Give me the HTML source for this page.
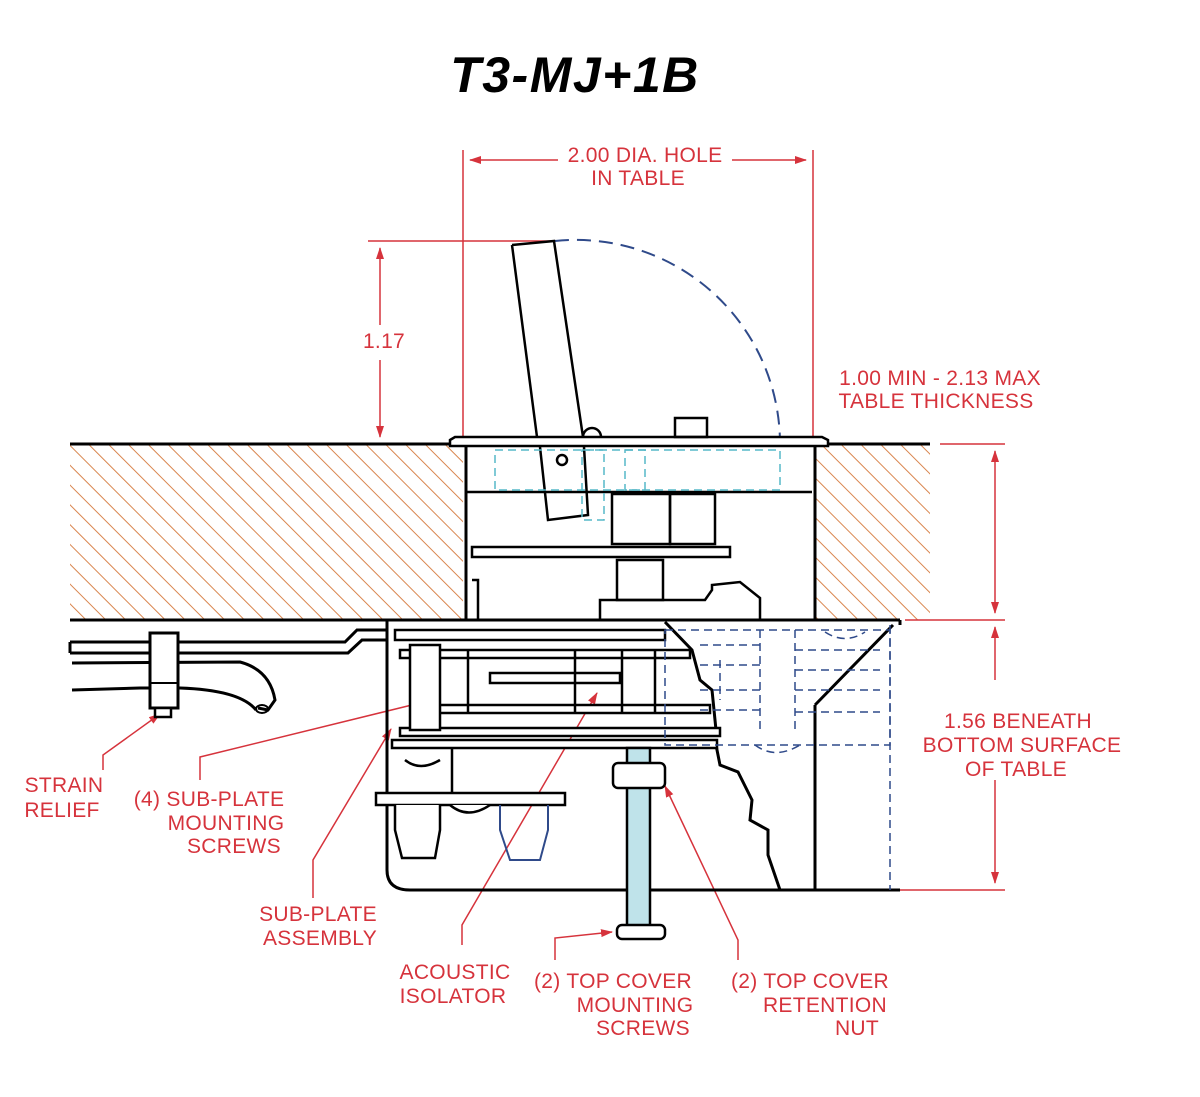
<!DOCTYPE html>
<html><head><meta charset="utf-8"><style>
html,body{margin:0;padding:0;background:#fff}
svg{display:block}
text{font-family:"Liberation Sans",sans-serif}
.l{fill:#d6333c;font-size:21px;letter-spacing:0.3px}
</style></head><body>
<svg width="1200" height="1097" viewBox="0 0 1200 1097" xmlns="http://www.w3.org/2000/svg">
<defs>
<pattern id="h" width="14" height="14" patternUnits="userSpaceOnUse" patternTransform="rotate(-45)">
<line x1="0" y1="0" x2="0" y2="14" stroke="#d9864f" stroke-width="2"/>
</pattern>
<marker id="a" markerWidth="12" markerHeight="8" refX="11" refY="4" orient="auto" markerUnits="userSpaceOnUse">
<path d="M0,0 L12,4 L0,8 z" fill="#d6333c"/>
</marker>
</defs>
<text x="575" y="92" text-anchor="middle" font-size="50" font-weight="bold" font-style="italic" letter-spacing="1.5">T3-MJ+1B</text>

<!-- table hatch -->
<rect x="70" y="445" width="393" height="175" fill="url(#h)"/>
<rect x="815" y="445" width="115" height="175" fill="url(#h)"/>
<g stroke="#000" stroke-width="3" fill="none">
<line x1="70" y1="444" x2="930" y2="444"/>
<line x1="70" y1="620" x2="900" y2="620"/>
<line x1="466" y1="446" x2="466" y2="620"/>
<line x1="815" y1="446" x2="815" y2="620"/>
</g>

<!-- red dims -->
<g stroke="#d6333c" stroke-width="1.5" fill="none">
<line x1="463" y1="150" x2="463" y2="438"/>
<line x1="813" y1="150" x2="813" y2="438"/>
<path d="M558,160 L470,160" marker-end="url(#a)"/>
<path d="M732,160 L806,160" marker-end="url(#a)"/>
<line x1="368" y1="241" x2="555" y2="241"/>
<path d="M380,325 L380,248" marker-end="url(#a)"/>
<path d="M380,360 L380,437" marker-end="url(#a)"/>
<line x1="940" y1="444" x2="1005" y2="444"/>
<line x1="905" y1="620" x2="1005" y2="620"/>
<line x1="900" y1="890" x2="1005" y2="890"/>
<path d="M995,530 L995,451" marker-end="url(#a)"/>
<path d="M995,530 L995,613" marker-end="url(#a)"/>
<path d="M995,680 L995,627" marker-end="url(#a)"/>
<path d="M995,780 L995,883" marker-end="url(#a)"/>
<!-- leaders -->
<path d="M103,770 L103,755 L160,714" marker-end="url(#a)"/>
<path d="M200,780 L200,757 L420,703 L429,645" marker-end="url(#a)"/>
<path d="M313,898 L313,860 L391,729" marker-end="url(#a)"/>
<path d="M462,945 L462,925 L597,693" marker-end="url(#a)"/>
<path d="M555,960 L555,938 L612,932" marker-end="url(#a)"/>
<path d="M738,960 L738,940 L665,786" marker-end="url(#a)"/>
</g>

<!-- arc -->
<path d="M555,241 A204,204 0 0 1 780,444" stroke="#2f4a8a" stroke-width="2" fill="none" stroke-dasharray="14,8"/>

<g stroke="#000" stroke-width="2.5" fill="none">
<path d="M450,440 L455,437 L822,437 L828,440 L828,446 L450,446 z" fill="#fff"/>
<path d="M512,245 L554,241 L583,437 M512,245 L537,437"/>
<path d="M540,447 L548,520 L588,515 L584,447"/>
<path d="M583,437 A9,9 0 0 1 601,437"/>
<rect x="675" y="418" width="32" height="19"/>
<circle cx="562" cy="460" r="5"/>
<line x1="466" y1="492" x2="812" y2="492"/>
<rect x="612" y="494" width="58" height="50"/>
<rect x="670" y="494" width="45" height="50"/>
<rect x="472" y="547" width="258" height="10"/>
<rect x="617" y="560" width="46" height="40"/>
<path d="M600,620 L600,600 L705,600 L712,590 L712,585 L740,582 L760,598 L760,620"/>
<path d="M472,580 L478,580 L478,620"/>
</g>
<g stroke="#56b8c8" stroke-width="1.5" fill="none" stroke-dasharray="8,5">
<rect x="495" y="450" width="285" height="40"/>
<rect x="582" y="450" width="22" height="70"/>
<rect x="625" y="450" width="20" height="40"/>
</g>

<g stroke="#000" stroke-width="3" fill="none">
<path d="M387,620 L387,870 Q387,890 410,890 L900,890"/>
<line x1="815" y1="705" x2="815" y2="890"/>
<line x1="815" y1="705" x2="893" y2="625"/>
<line x1="900" y1="620" x2="900" y2="625"/>
<path d="M665,622 L692,650 L700,680 L712,690 L716,730"/>
<path d="M715,740 L720,765 L738,772 L752,800 L750,820 L768,830 L768,855 L780,890"/>
</g>
<g stroke="#000" stroke-width="2.5" fill="#fff">
<rect x="395" y="630" width="270" height="10"/>
<rect x="400" y="650" width="290" height="8"/>
<rect x="490" y="673" width="130" height="10"/>
<rect x="420" y="705" width="290" height="8"/>
<rect x="400" y="728" width="320" height="8"/>
<rect x="392" y="740" width="325" height="8"/>
<rect x="376" y="793" width="189" height="12"/>
<rect x="410" y="645" width="30" height="85"/>
<line x1="468" y1="650" x2="468" y2="713"/>
<line x1="575" y1="650" x2="575" y2="713"/>
<line x1="622" y1="650" x2="622" y2="713"/>
<line x1="655" y1="650" x2="655" y2="713"/>
<path d="M405,760 Q420,772 440,760"/>
<path d="M395,805 L395,830 L402,858 L435,858 L440,830 L440,805"/>
<path d="M450,805 Q468,820 490,805"/>
<line x1="452" y1="748" x2="452" y2="793"/>
</g>
<path d="M500,805 L500,830 L510,860 L540,860 L548,830 L548,805" stroke="#2f4a8a" stroke-width="2" fill="none"/>
<rect x="627" y="748" width="23" height="180" fill="#bfe3ea" stroke="#000" stroke-width="2.5"/>
<rect x="613" y="763" width="52" height="25" rx="5" fill="#fff" stroke="#000" stroke-width="2.5"/>
<rect x="617" y="925" width="48" height="14" rx="5" fill="#fff" stroke="#000" stroke-width="2.5"/>
<g stroke="#2f4a8a" stroke-width="1.5" fill="none" stroke-dasharray="8,5">
<rect x="665" y="630" width="225" height="115"/>
<line x1="700" y1="645" x2="760" y2="645"/>
<line x1="700" y1="665" x2="760" y2="665"/>
<line x1="700" y1="690" x2="760" y2="690"/>
<line x1="700" y1="710" x2="760" y2="710"/>
<line x1="795" y1="650" x2="880" y2="650"/>
<line x1="795" y1="670" x2="880" y2="670"/>
<line x1="795" y1="690" x2="880" y2="690"/>
<line x1="795" y1="712" x2="880" y2="712"/>
<line x1="760" y1="630" x2="760" y2="730"/>
<line x1="795" y1="630" x2="795" y2="730"/>
<line x1="720" y1="660" x2="720" y2="700"/>
<path d="M755,745 Q775,760 800,745"/>
<path d="M825,632 Q845,645 865,632"/>
<line x1="890" y1="625" x2="890" y2="890"/>
</g>

<g stroke="#000" stroke-width="3" fill="none">
<path d="M70,642 L345,642 L357,630 L387,630"/>
<path d="M70,653 L348,653 L362,640 L387,640"/>
<line x1="70" y1="642" x2="70" y2="653"/>
<path d="M72,663 L240,662 Q270,670 275,700 L268,710 L258,708"/>
<path d="M72,690 L140,688 L180,688 Q240,690 256,710"/>
<ellipse cx="262" cy="709" rx="6" ry="4" stroke-width="2"/>
</g>
<rect x="150" y="633" width="28" height="75" fill="#fff" stroke="#000" stroke-width="3"/>
<line x1="150" y1="683" x2="178" y2="683" stroke="#000" stroke-width="2"/>
<rect x="155" y="708" width="16" height="9" fill="#fff" stroke="#000" stroke-width="2.5"/>

<text class="l" x="645" y="162" text-anchor="middle">2.00 DIA. HOLE</text>
<text class="l" x="638" y="185" text-anchor="middle">IN TABLE</text>
<text class="l" x="384" y="348" text-anchor="middle">1.17</text>
<text class="l" x="940" y="385" text-anchor="middle">1.00 MIN - 2.13 MAX</text>
<text class="l" x="936" y="408" text-anchor="middle">TABLE THICKNESS</text>
<text class="l" x="1018" y="728" text-anchor="middle">1.56 BENEATH</text>
<text class="l" x="1022" y="752" text-anchor="middle">BOTTOM SURFACE</text>
<text class="l" x="1016" y="776" text-anchor="middle">OF TABLE</text>
<text class="l" x="64" y="792" text-anchor="middle">STRAIN</text>
<text class="l" x="62" y="817" text-anchor="middle">RELIEF</text>
<text class="l" x="209" y="806" text-anchor="middle">(4) SUB-PLATE</text>
<text class="l" x="226" y="830" text-anchor="middle">MOUNTING</text>
<text class="l" x="234" y="853" text-anchor="middle">SCREWS</text>
<text class="l" x="318" y="921" text-anchor="middle">SUB-PLATE</text>
<text class="l" x="320" y="945" text-anchor="middle">ASSEMBLY</text>
<text class="l" x="455" y="979" text-anchor="middle">ACOUSTIC</text>
<text class="l" x="453" y="1003" text-anchor="middle">ISOLATOR</text>
<text class="l" x="613" y="988" text-anchor="middle">(2) TOP COVER</text>
<text class="l" x="635" y="1012" text-anchor="middle">MOUNTING</text>
<text class="l" x="643" y="1035" text-anchor="middle">SCREWS</text>
<text class="l" x="810" y="988" text-anchor="middle">(2) TOP COVER</text>
<text class="l" x="825" y="1012" text-anchor="middle">RETENTION</text>
<text class="l" x="857" y="1035" text-anchor="middle">NUT</text>
</svg>
</body></html>
